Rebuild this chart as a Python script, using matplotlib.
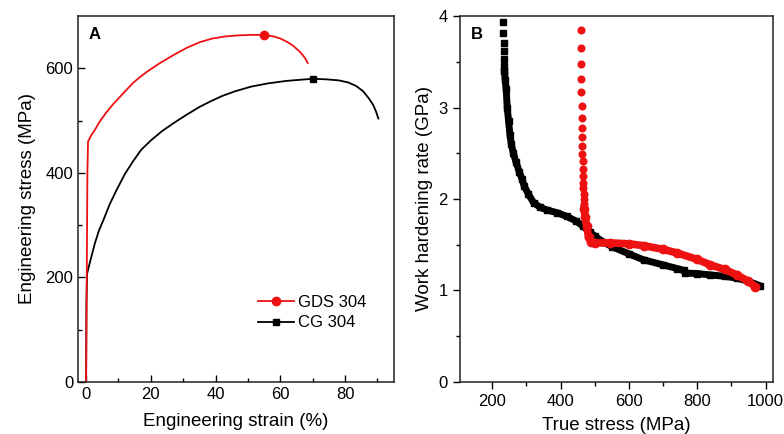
import numpy as np
import matplotlib.pyplot as plt

plt.rcParams['font.family'] = ['Liberation Sans', 'DejaVu Sans']

# panel A: engineering stress-strain curves
gds_strain = [0.0, 0.2, 0.4, 0.6, 1.5, 2.7, 4.2, 6.3, 8.3, 10.4, 12.5, 14.5, 16.6, 18.7, 22.8, 26.9, 31.0,
              35.1, 39.0, 43.0, 47.0, 51.0, 55.0, 58.0, 60.0, 62.0, 64.0, 66.0, 67.5, 68.5]
gds_stress = [0, 200, 400, 460, 471, 482, 498, 516, 531, 545, 559, 572, 583, 593, 610, 625, 639,
              650, 657, 661, 663, 664, 664, 661, 657, 651, 643, 632, 621, 610]
cg_strain = [0.0, 0.1, 0.3, 1.1, 2.7, 4.0, 5.3, 7.3, 9.4, 12.0, 14.5, 17.0, 20.0, 23.5, 27.0, 31.0, 35.0,
             38.5, 42.0, 46.0, 51.0, 56.0, 62.0, 66.0, 70.1, 74.0, 78.0, 81.0, 83.5, 85.6, 87.3, 88.7,
             89.6, 90.3]
cg_stress = [0, 150, 207, 227, 265, 290, 309, 340, 367, 398, 422, 444, 462, 480, 495, 511, 526,
             537, 547, 556, 565, 571, 576, 578, 580, 579, 577, 573, 566, 556, 543, 530, 517, 504]
gds_mark = (55.0, 664)
cg_mark = (70.1, 580)

# panel B: work hardening rate vs true stress
cg_top_true = [233, 233, 234, 234, 235, 235, 236]
cg_top_rate = [3.93, 3.81, 3.71, 3.62, 3.53, 3.45, 3.40]
cg_true = [236, 238, 241, 244, 248, 252, 256, 262, 270, 279, 287, 294, 305, 321, 340, 360, 390, 418, 445,
           467, 485, 502, 525, 550, 600, 643, 700, 741, 760, 765, 800, 838, 880, 916, 950, 985]
cg_rate = [3.40, 3.30, 3.20, 3.00, 2.85, 2.70, 2.60, 2.50, 2.40, 2.30, 2.22, 2.14, 2.06, 1.96, 1.91, 1.88,
           1.85, 1.81, 1.76, 1.70, 1.64, 1.59, 1.53, 1.48, 1.40, 1.335, 1.28, 1.24, 1.22, 1.19, 1.185,
           1.17, 1.155, 1.135, 1.10, 1.05]
gds_top_true = [459.6, 460.0, 460.4, 460.8, 461.2, 461.6, 462.0, 462.5, 463.0, 463.5, 464.0, 464.6,
                465.2, 465.8, 466.4, 467.0, 467.6, 468.2, 468.8, 469.4]
gds_top_rate = [3.85, 3.65, 3.48, 3.31, 3.17, 3.02, 2.89, 2.78, 2.68, 2.58, 2.49, 2.41, 2.33, 2.25,
                2.18, 2.12, 2.06, 2.00, 1.94, 1.89]
gds_true = [469.4, 472, 477, 482, 490, 501.5, 545, 600, 643, 700, 741, 800, 838, 880, 916, 950, 970]
gds_rate = [1.89, 1.80, 1.70, 1.58, 1.53, 1.52, 1.52, 1.51, 1.49, 1.45, 1.41, 1.34, 1.28, 1.23, 1.17,
            1.10, 1.04]

red = '#ee1111'

fig = plt.figure(figsize=(7.84, 4.34), dpi=100)
ax1 = fig.add_axes([0.0995, 0.12, 0.4025, 0.843])
ax2 = fig.add_axes([0.5864, 0.12, 0.3996, 0.843])

# --- A ---
ax1.plot(cg_strain, cg_stress, color='black', lw=1.3)
ax1.plot(gds_strain, gds_stress, color=red, lw=1.3)
ax1.plot(*gds_mark, 'o', color=red, ms=6)
ax1.plot(*cg_mark, 's', color='black', ms=5)
ax1.plot([], [], '-o', color=red, lw=1.3, ms=6, label='GDS 304')
ax1.plot([], [], '-s', color='black', lw=1.3, ms=5, label='CG 304')
ax1.set_xlim(-2.5, 95)
ax1.set_ylim(0, 700)
ax1.set_xticks([0, 20, 40, 60, 80])
ax1.set_xticks([10, 30, 50, 70, 90], minor=True)
ax1.set_yticks([0, 200, 400, 600])
ax1.set_yticks([100, 300, 500], minor=True)
ax1.tick_params(which='both', direction='in', labelsize=12, width=1)
ax1.tick_params(which='major', length=5)
ax1.tick_params(which='minor', length=3)
ax1.set_xlabel('Engineering strain (%)', fontsize=13.5, labelpad=8)
ax1.set_ylabel('Engineering stress (MPa)', fontsize=13.5, labelpad=7)
ax1.text(0.035, 0.97, 'A', transform=ax1.transAxes, fontsize=12, fontweight='bold', va='top')
ax1.legend(loc='lower right', bbox_to_anchor=(0.96, 0.10), frameon=False, fontsize=12,
           handlelength=2.2, handletextpad=0.2, labelspacing=0.35)

# --- B ---
ax2.plot(cg_top_true, cg_top_rate, 's', color='black', ms=4)
ax2.plot(cg_true, cg_rate, color='black', lw=5, solid_capstyle='butt')
ax2.plot(cg_true, cg_rate, 's', color='black', ms=4.5)
ax2.plot(gds_true, gds_rate, color=red, lw=5.5)
ax2.plot(gds_true, gds_rate, 'o', color=red, ms=6)
ax2.plot(gds_top_true, gds_top_rate, 'o', color=red, ms=5.8, mew=0)
ax2.set_xlim(105, 1022)
ax2.set_ylim(0, 4)
ax2.set_xticks([200, 400, 600, 800, 1000])
ax2.set_xticks([300, 500, 700, 900], minor=True)
ax2.set_yticks([0, 1, 2, 3, 4])
ax2.set_yticks([0.5, 1.5, 2.5, 3.5], minor=True)
ax2.tick_params(which='both', direction='out', labelsize=12, width=1)
ax2.tick_params(which='major', length=5)
ax2.tick_params(which='minor', length=3)
ax2.set_xlabel('True stress (MPa)', fontsize=13.5, labelpad=6)
ax2.set_ylabel('Work hardening rate (GPa)', fontsize=13.5)
ax2.text(0.035, 0.97, 'B', transform=ax2.transAxes, fontsize=12, fontweight='bold', va='top')

for ax in (ax1, ax2):
    for s in ax.spines.values():
        s.set_linewidth(1.1)
        s.set_color('#222222')

fig.savefig('out.png', dpi=100)
